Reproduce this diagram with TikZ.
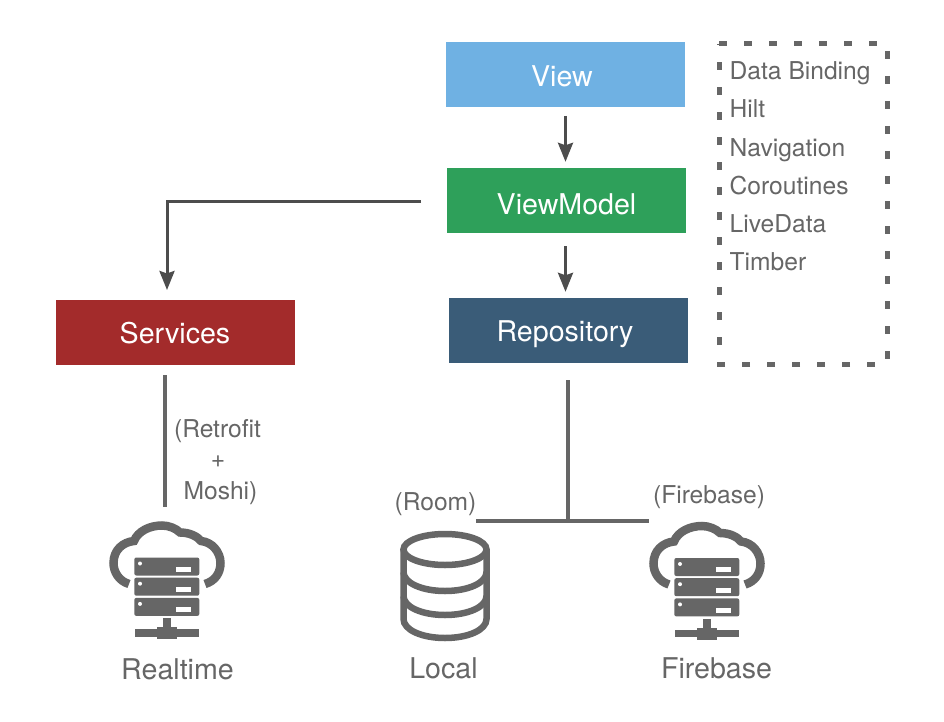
\documentclass[tikz,border=0pt]{standalone}
\usepackage{fontspec}
\setmainfont{TeX Gyre Heros}
\usetikzlibrary{arrows.meta,calc}
\definecolor{ink}{HTML}{666666}
\definecolor{arrowink}{HTML}{4D4D4D}
\definecolor{cview}{HTML}{6FB1E3}
\definecolor{cvm}{HTML}{2EA05A}
\definecolor{crepo}{HTML}{3A5C78}
\definecolor{csvc}{HTML}{A32B2B}
\tikzset{
  layer/.style={minimum width=239pt,minimum height=65pt,inner sep=0pt},
  layertext/.style={anchor=base,inner sep=0pt,text=white,font=\fontsize{28.6}{32}\selectfont},
  note/.style={text=ink,inner sep=0pt,font=\fontsize{24.6}{28}\selectfont},
  caption/.style={anchor=base,text=ink,inner sep=0pt,font=\fontsize{28.6}{32}\selectfont},
  flow/.style={draw=arrowink,line width=3pt,-{Stealth[length=19pt,width=15pt,inset=2.5pt]}},
  wire/.style={draw=ink,line width=3.2pt},
  dbline/.style={draw=ink,line width=6.5pt},
  serverbox/.style={fill=ink,rounded corners=2pt},
  pics/servercloud/.style={code={
    \draw[ink,line width=8.5pt] (-38,84) .. controls (-48,81) and (-53.5,72) .. (-53.5,63)
      .. controls (-53.5,50) and (-44,42) .. (-33,41)
      .. controls (-29,31) and (-17,25.5) .. (-5,25.5)
      .. controls (2,25.5) and (9,28.5) .. (13,32.5)
      .. controls (22,32.5) and (30,36) .. (34,41)
      .. controls (45,42) and (53.5,52) .. (53.5,63)
      .. controls (53.5,73) and (48,81) .. (38,84);
    \foreach \t in {57.5,77.7,97.9}{
      \fill[serverbox] (-32.7,\t) rectangle (32.3,\t+18);
      \fill[white] (9,\t+9.4) rectangle (23.7,\t+14.4);
      \fill[white] (-27,\t+6) circle (2pt);
    }
    \fill[ink] (-3.7,118) rectangle (3.7,130);
    \fill[ink] (-32,129.3) rectangle (32,136.7);
    \fill[ink] (-10,127) rectangle (10,139);
  }},
}
\begin{document}
\begin{tikzpicture}[x=1pt,y=-1pt]
\useasboundingbox (0,0) rectangle (944,722);
\node[layer,fill=cview] (view) at (565.5,74.5) {};
\node[layertext] (viewt) at (562,86.5) {View};
\node[layer,fill=cvm] (vm) at (566.5,200.5) {};
\node[layertext] (vmt) at (566.5,214.5) {ViewModel};
\node[layer,fill=crepo] (repo) at (568,330.5) {};
\node[layertext] (repot) at (565,341) {Repository};
\node[layer,fill=csvc] (svc) at (175,332.5) {};
\node[layertext] (svct) at (175,343) {Services};

\draw[ink,line width=5pt,dash pattern=on 8pt off 17pt] (719,44) -- (887,44) -- (887,364) -- (719,364) -- cycle;
\node[note,anchor=base west] (n1) at (729.5,79.5) {Data Binding};
\node[note,anchor=base west] (n2) at (729.5,117.5) {Hilt};
\node[note,anchor=base west] (n3) at (729.5,156.5) {Navigation};
\node[note,anchor=base west] (n4) at (729.5,194) {Coroutines};
\node[note,anchor=base west] (n5) at (729.5,232) {LiveData};
\node[note,anchor=base west] (n6) at (729.5,270) {Timber};

\coordinate (a1s) at (565.5,116);
\coordinate (a1e) at ([yshift=6pt]vm.north -| a1s);
\draw[flow] (a1s) -- (a1e);
\coordinate (a2s) at (565.5,246);
\coordinate (a2e) at ([yshift=6pt]repo.north -| a2s);
\draw[flow] (a2s) -- (a2e);
\coordinate (a3s) at (421,201);
\coordinate (a3e) at (167,290);
\draw[flow] (a3s) -| (a3e);

\pic at (167,500) {servercloud};
\coordinate (cloudA) at (165,507);
\coordinate (svcS) at (165,375);
\draw[wire] (svcS) -- (cloudA);
\node[note,anchor=base] (retro) at (217.5,437) {(Retrofit};
\node[note,anchor=base] (plus) at (218,467) {+};
\node[note,anchor=base] (moshi) at (220.5,499) {Moshi)};
\node[caption] (realtime) at (177.5,679) {Realtime};

\pic at (707,500.5) {servercloud};
\node[caption] (firebase) at (716.5,678.5) {Firebase};
\node[note,anchor=base] (fbl) at (709,503.5) {(Firebase)};
\node[note,anchor=base] (rooml) at (435.5,510) {(Room)};

\coordinate (busL) at (476,521);
\coordinate (busR) at (649,521);
\coordinate (busT) at (568,380);
\draw[wire] (busL) -- (busR);
\draw[wire] (busT) -- (busT |- busL);

% database
\draw[dbline] (445,549.5) ellipse [x radius=41.5,y radius=15.5];
\draw[dbline,line cap=round]
  (403.5,550) -- (403.5,619) .. controls (403.5,630) and (422,638) .. (445,638) .. controls (468,638) and (486.5,630) .. (486.5,619) -- (486.5,550);
\draw[dbline] (403.5,572) .. controls (403.5,583) and (422,591) .. (445,591) .. controls (468,591) and (486.5,583) .. (486.5,572);
\draw[dbline] (403.5,596) .. controls (403.5,607) and (422,615) .. (445,615) .. controls (468,615) and (486.5,607) .. (486.5,596);
\node[caption] (local) at (443.5,678) {Local};
\end{tikzpicture}
\end{document}
